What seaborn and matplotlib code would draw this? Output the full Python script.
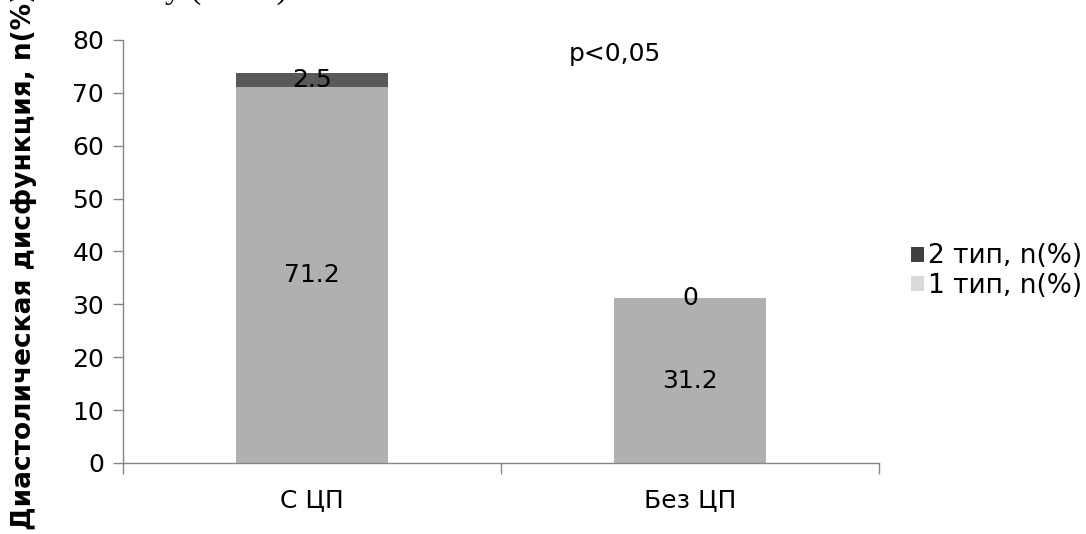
import matplotlib
matplotlib.use("Agg")
import matplotlib.pyplot as plt
import seaborn as sns
import pandas as pd
from matplotlib.patches import Patch

categories = ["С ЦП", "Без ЦП"]
type1 = [71.2, 31.2]
type2 = [2.5, 0]
series_names = ["2 тип, n(%)", "1 тип, n(%)"]
y_ticks = [0, 10, 20, 30, 40, 50, 60, 70, 80]

sns.set_theme(style="white")
plt.rcParams['font.family'] = ['DejaVu Sans']

df = pd.DataFrame({"cat": categories, "t1": type1, "t2": type2})
df["total"] = df["t1"] + df["t2"]

fig = plt.figure(figsize=(10.86, 5.34), dpi=100)
ax = fig.add_axes([123/1086, 1-463/534, (879-123)/1086, (463-40)/534])

dark_bar = "#595959"
light_bar = "#B0B0B0"

sns.barplot(data=df, x="cat", y="total", color=dark_bar, width=0.4, ax=ax,
            saturation=1, edgecolor="none", linewidth=0)
sns.barplot(data=df, x="cat", y="t1", color=light_bar, width=0.4, ax=ax,
            saturation=1, edgecolor="none", linewidth=0)

fs = 18
for i in range(len(categories)):
    ax.text(i, type1[i] / 2, f"{type1[i]:.1f}", ha="center", va="center", fontsize=fs, color="black")
    t2 = type2[i]
    ax.text(i, type1[i] + t2 / 2, f"{t2:g}", ha="center", va="center", fontsize=fs, color="black")

ax.text(0.80, 77.3, "p<0,05", ha="center", va="center", fontsize=fs, color="black")

ax.set_xlim(-0.5, 1.5)
ax.set_ylim(0, 80)
ax.set_yticks(y_ticks)
ax.set_yticklabels([str(t) for t in y_ticks], fontsize=fs)
ax.set_xticks(range(len(categories)))
ax.set_xticklabels(categories, fontsize=fs)
ax.set_xticks([-0.5, 0.5, 1.5], minor=True)
ax.tick_params(which="both", left=True, bottom=True)
ax.tick_params(axis="x", which="major", length=0, pad=18, labelcolor="black")
ax.tick_params(axis="x", which="minor", length=8, width=1, color="#868686", direction="out")
ax.tick_params(axis="y", which="major", length=7.5, width=1, color="#868686", direction="out",
               pad=6, labelcolor="black")
ax.set_xlabel("")
ax.set_ylabel("")

for side in ["top", "right"]:
    ax.spines[side].set_visible(False)
for side in ["left", "bottom"]:
    ax.spines[side].set_color("#868686")
    ax.spines[side].set_linewidth(1)

fig.text(24/1086, 4/534, "Диастолическая дисфункция, n(%)", rotation=90, ha="center", va="bottom",
         fontsize=19, fontweight="bold", color="black")

fig.text(165/1086, 1 + 2/534, "y (         )", ha="left", va="baseline",
         fontsize=24, family=["Liberation Serif"], color="black")

handles = [Patch(facecolor="#404040", edgecolor="none"), Patch(facecolor="#D9D9D9", edgecolor="none")]
fig.legend(handles, series_names, loc="center left", bbox_to_anchor=(911/1086, 1-271/534),
           frameon=False, fontsize=19, handlelength=0.5, handleheight=0.5, handletextpad=0.15,
           labelspacing=0.12, borderpad=0, borderaxespad=0, labelcolor="black")

fig.savefig("out.png", dpi=100)
